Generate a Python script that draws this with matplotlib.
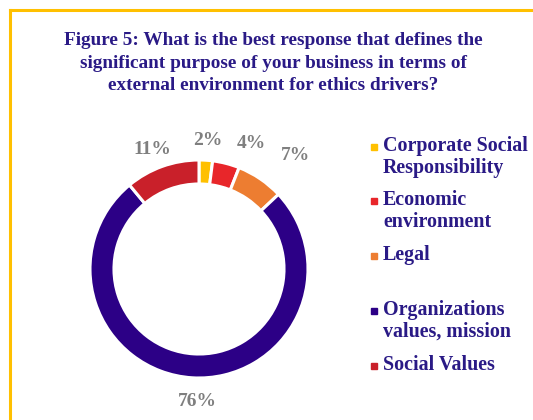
import matplotlib
matplotlib.use("Agg")
import matplotlib.pyplot as plt
from matplotlib.lines import Line2D

# survey responses, clockwise from the top
categories = ["Corporate Social\nResponsibility", "Economic\nenvironment", "Legal",
              "Organizations\nvalues, mission", "Social Values"]
shares = [2, 4, 7, 76, 11]
colors = ["#FFC000", "#E8262A", "#ED7D31", "#2C0086", "#C9202A"]
title = ("Figure 5: What is the best response that defines the\n"
         "significant purpose of your business in terms of\n"
         "external environment for ethics drivers?")

W, H = 533, 420
fig = plt.figure(figsize=(W / 100, H / 100), dpi=100)
fig.patch.set_facecolor("white")

serif = "Liberation Serif"
text_col = "#2A1A86"

# gold frame, open to the right and bottom
fig.add_artist(Line2D([10 / W, 10 / W], [0, 1 - 10 / H], transform=fig.transFigure,
                      color="#FFC000", lw=2.2))
fig.add_artist(Line2D([10 / W, 1], [1 - 10 / H, 1 - 10 / H], transform=fig.transFigure,
                      color="#FFC000", lw=2.2))

fig.text(273 / W, 1 - 63 / H, title, ha="center", va="center", fontsize=13.9,
         fontweight="bold", family=serif, color=text_col, linespacing=1.4)

# donut
cx, cy, r = 199, 269, 109
ax = fig.add_axes([(cx - r) / W, 1 - (cy + r) / H, 2 * r / W, 2 * r / H])
wedges, _ = ax.pie(shares, colors=colors, startangle=90, counterclock=False,
                   radius=1.0, wedgeprops=dict(width=0.22, edgecolor="white", linewidth=2.2))
ax.set_xlim(-1, 1)
ax.set_ylim(-1, 1)
ax.set_aspect("equal")
ax.axis("off")

# percentage labels
label_pos = [(208, 141), (251, 143), (296, 156), (197, 402), (152, 150)]
for v, (x, y) in zip(shares, label_pos):
    fig.text(x / W, 1 - y / H, f"{v}%", ha="center", va="center", fontsize=14,
             fontweight="bold", family=serif, color="#7F7F7F")

# legend
legend_y = [157, 211, 255, 321, 365]
for name, c, y in zip(categories, colors, legend_y):
    first_y = y - (11 if "\n" in name else 0)
    fig.text(383 / W, 1 - y / H, name, ha="left", va="center", fontsize=14.4,
             fontweight="bold", family=serif, color=text_col, linespacing=1.12)
    fig.add_artist(Line2D([374 / W], [1 - (first_y + 1) / H], transform=fig.transFigure,
                          marker="s", markersize=4.3, color=c, linestyle="none"))

fig.savefig("out.png", dpi=100)
